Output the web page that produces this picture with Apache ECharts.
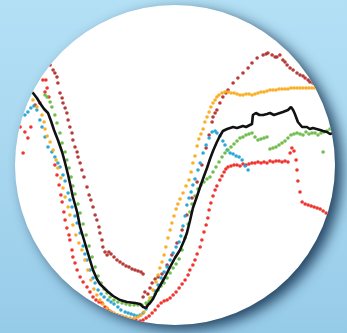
<!DOCTYPE html>
<html>
<head>
<meta charset="utf-8">
<script src="https://cdn.jsdelivr.net/npm/echarts@6/dist/echarts.min.js"></script>
<style>
  html, body { margin: 0; padding: 0; width: 347px; height: 333px; overflow: hidden; }
  body { background: linear-gradient(to bottom, #b3e0f5 0%, #a6d6ef 55%, #96cbe8 100%); position: relative; }
  #disc {
    position: absolute; left: 15px; top: 5px; width: 320px; height: 320px;
    border-radius: 50%; overflow: hidden; background: #ffffff;
    box-shadow: 7px 5px 13px rgba(15, 45, 75, 0.85);
  }
  #chart { position: absolute; left: 0; top: 0; width: 320px; height: 320px; }
</style>
</head>
<body>
<div id="disc"><div id="chart"></div></div>
<script>
// Sampled profiles: [time index, level]
const meanProfile = [
  [0,118.5],[2,117.5],[4,116.5],[5,116],[6.3,113.5],[7.3,111],[8.7,108],[10,106],[11,102],[12,97.5],
  [13.3,92.5],[14.7,86.5],[15.7,81],[16.7,75],[17.3,71],[18.3,64],[19.7,56.5],[20.7,49],[22,42.5],[23,37.5],
  [24,32.5],[25,27.5],[26.3,23],[27.3,20.5],[28.7,18.5],[29.7,17],[31.7,14.5],[34,12.5],[36.3,11.5],[39,11],
  [40.7,10.5],[41.7,9],[42.7,8.5],[43.3,10],[44,11],[45,13],[46.3,17],[47.3,19.5],[49,24],[50.7,29],
  [52.3,33.5],[54,37.5],[55.3,42],[56.3,46],[57.3,52],[58.3,58.5],[59.7,64.5],[60.7,69],[62,74.5],[63,78.5],
  [64,83],[65,87],[66.3,91.5],[67.3,94.5],[68.3,97],[69.7,98],[71.7,99],[73,98.5],[75,99.5],[76,99],[77.3,100],[78,100.5],
  [78.3,105],[79.3,106],[80.5,105],[81.7,105],[83,105.5],[84,106],[85.3,105],[86.3,105.5],[88.3,106.5],[90,107.5],[91,109],[91.7,107.5],[92.3,105.5],
  [93.3,101.5],[94.7,99],[96.3,99],[97.3,98],[98.3,98.5],[100.7,97.5],[101.7,97],[103,96.5],[104,95.5],[105,96]
];

const siteRed = [
  [0.7,99],[1.7,86],[2.3,96.5],[3.3,93.5],[4.3,99],[5.7,110],[7.3,111],[8.3,122.5],[9.3,122.5],[9.7,118.5],
  [9,116.5],[10.3,114],
  [12.3,80],[13,75],[13.7,70],[14.3,65],[14.7,61.5],[15.3,56.5],[15.7,52.5],[16.3,48.5],[17,45],[17.3,42.5],
  [18,37.5],[18.3,34],[19,31],[19.7,27.5],[20.7,24],[21.7,21.5],[23,19],[24,16.5],[25,14],[26,12.5],
  [27,11.5],[28,11],[29,9],[30,7.5],[31,6.5],[32,5.5],[33,5],[34,4.5],[35,4],[36,3.5],
  [37.3,3],[38.3,2.5],[39.3,2.5],[40.7,2],[41.7,2.5],[42.7,3.5],[43.7,4.5],[44.7,6],[45.7,7.5],[46.7,9.5],
  [47.7,11],[48.7,12],[49.7,12.5],[50.7,13.5],[51.7,15],[52.7,16.5],[53.7,18.5],[54.7,20.5],[55.7,22.5],[56.7,25],
  [57.3,27.5],[58.3,30],[59,32.5],[59.7,35.5],[60.7,39],[61.3,42.5],[62,46.5],[62.7,50],[63.3,53.5],[63.7,57.5],
  [64.3,61],[65,64.5],[65.7,67.5],[66.3,69.5],[67.3,72.5],[68,74.5],[68.7,76.5],[69.3,78],[70,79],[71,79.5],
  [72,80],[73,80],[74,79.5],[75,80.5],[76,80],[77,80.5],[78,81],[79,81],[80,81.5],[81,81],
  [82,81.5],[83,81],[84,82],[85,81.5],[86,82],[87,82],[88,81.5],[89,82],[90,81.5],
  [90.7,86],[91.3,88.5],[92,87],[92.7,82.5],[93,77.5],[93.3,72],[94,66.5],[94.7,61.5],[95.7,60.5],[96.7,60],
  [97.7,59.5],[98.7,59],[99.7,58.5],[100.7,58],[101.7,57],[102.7,56],[103.7,54.5],[104.7,53.5]
];

const siteMaroon = [
  [10.7,130],[11.7,127.5],[12.3,126],[13,124],[13.3,121],[14,116],[14.7,113.5],[15,111],[15.7,108.5],[16.3,106],
  [16.7,102.5],[17.3,99],[18,96],[18.3,92.5],[19,89],[19.7,86.5],[20,84],[20.7,81],[21.3,77.5],[22,74],
  [23,69],[23.7,65],[24.3,62.5],[25,59],[25.7,55],[26.3,52.5],[27,49],[27.3,46],[28,42.5],[28.3,39],
  [29,36.5],[29.7,35],[30.3,36.5],[31,35.5],[32,34],[33,32.5],[34,31.5],[35,30.5],[36,29.5],[37,29],
  [38,28],[39,27.5],[40,27],[41,26.5],[41.7,25.5],
  [41.7,14],[42.3,16.5],[43.3,15.5],[44,18.5],[44.7,21],[45.7,23],[46.7,24],[48,25.5],[49.7,30],[51.3,35],
  [53,41],[54.7,47.5],[56.3,55],[58,63.5],[59.7,71.5],[61.3,80],[62.7,88.5],[63.7,95],[64.7,101.5],[65,104],
  [65.7,106],[66.3,107.5],[67.3,111],[68.3,114],[69.3,116],[70,117.5],[71.7,121],[73.3,123.5],[75,126],[76.7,128.5],
  [78,131],[79.7,133.5],[81.7,135],[82.7,135.5],[83.3,136],[84.7,135],[85.7,134],[86.3,134],[87.3,135],[88.3,132.5],
  [89,131.5],[89.7,130],[90.7,128.5],[91.7,127.5],[93,126],[94,125],[95,124.5],[95.7,123.5],[96.7,122.5],[97.3,121.5],
  [98.3,121],[99.3,120],[100.7,118.5]
];

const siteOrange = [
  [5,112.5],[6.3,109],[8,105],[8.7,101.5],[9,98],[9.7,94.5],[10.7,91.5],[11.7,87.5],[12.7,82.5],[13.3,78.5],
  [14.3,73.5],[15,68.5],[15.7,64],[16.7,59],[17.3,55],[18.3,50],[19.3,45],[20.3,41],[21.3,37.5],[22.3,32.5],
  [23.3,27.5],[24.3,22.5],[25.3,18],[26.3,15],[27.3,12.5],[28.3,10.5],[29.7,8.5],[30.7,7],[32,6],[33.3,5],
  [34.7,4.5],[36,4],[37.3,3.5],[38.7,3.5],[40,4],[41,5],[42,6.5],[43,10],[44,13.5],[45,17.5],
  [46,21.5],[46.7,25],[47.3,28.5],[48,31.5],[48.7,35],[49.3,39],[50,43.5],[50.7,47.5],[51.3,51],[52,54.5],
  [52.7,58],[53.3,60.5],[54,63],[55,66],[56,69.5],[57,72.5],[57.7,76.5],[58.3,81],[59,84.5],[59.7,89.5],
  [60.3,93],[61,95.5],[61.7,98],[62.3,101.5],[63,104],[63.7,106.5],[64.3,109],[65,111],[65.7,112.5],[66.3,114],
  [67,115],[68,116],[69,116.5],[70,116.5],[71,116],[72,116],[73,115.5],[74,115],[75,115],[76,115.5],
  [77,115.5],[78,115],[79,115.5],[80,116],[81,116.5],[82,116.5],[83,117],[84,117.5],[85,117.5],[86,117.5],
  [87,118],[88,118],[89,118],[90,118],[91,118.5],[92,118.5],[93,118.5],[94,118.5],[95,118.5],[96,118.5],
  [97,118.5],[98,118.5],[99,118.5],[100,118.5],[101,118.5]
];

const siteBlue = [
  [2.3,105],[3.3,106.5],[4.3,108.5],[5.3,109.5],[6.3,107.5],[7.3,102.5],[8,99],[9,94],[10,89],[11.3,86.5],
  [12.3,84],[13.3,81],[14,79],[15,75],[15.7,72],[16.7,66],[17.3,62.5],[18,59],[19,54.5],[19.7,51],
  [20.7,46],[21.7,39.5],[22.3,35.5],[23,32.5],[24,27.5],[25,23.5],[25.7,21],[26.7,17.5],[27.7,15.5],[28.7,14],
  [30,12.5],[31,11.5],[32,10.5],[33.3,9],[34.3,7.5],[35.7,6.5],[36.7,6],[37.7,5.5],[38.7,5],[39.7,4.5],
  [40.7,5],[41.7,6],[42.7,8],[43.7,11],[44.7,13.5],[45.7,17],[46.7,20],[47.7,23.5],[48.7,26.5],[49.7,29],
  [50.7,32.5],[51.7,36],[52.7,39],[53.7,41.5],[54.3,44.5],[55,49.5],[55.7,54.5],[56.3,60],[57,63.5],[57.7,66.5],
  [58.3,70],[59,73],[60,77.5],[60.7,81],[61.7,86],[62.7,90],[63.7,93.5],[64.7,96.5],[65.7,97],[66.3,96],
  [67.3,94.5],[68.3,92],[69,90],[69.7,87.5],[70.7,86],[71.7,85.5],[72.7,84.5],[73.7,84],[74.7,82.5],[75.7,79.5],
  [76.7,77.5]
];

const siteGreen = [
  [9,115],[9.7,114],[10.7,111.5],[11.3,109],[12.3,105],[13,101],[14,96],[14.7,91],[15.7,86.5],[16.3,82.5],
  [17,78.5],[17.7,74],[18.3,69.5],[19,65.5],[20,60.5],[20.7,56],[21.7,50.5],[22.7,45],[23.7,39.5],[24.7,34],
  [25.7,29],[26.7,24.5],[27.7,21],[28.7,18],[29.7,16],[30.7,14],[32,12.5],[33.3,11.5],[34.7,11],[36,10.5],
  [37.3,10],[38.7,10],[40,10],[41.3,10],[42.7,11],[43.7,12],[44.7,13.5],[45.7,15.5],[46.7,17.5],[47.7,19.5],
  [48.7,21],[49.7,23.5],[50.7,26],[51.7,28.5],[52.7,30.5],[53.7,33],[54.7,37.5],[55.7,43.5],[56.7,50.5],[57.3,56.5],
  [58,60.5],[59,64.5],[60,68],[61,70],[62,71.5],[63,73],[64,74],[65,76.5],[66,79],[67,81.5],
  [68,84],[69,86],[70,87.5],[71,89],[72,90.5],[73,92],[74,93.5],[75,94],[76,95],[77,95.5],
  [78,96],[79,94],[80,92.5],[81,93],[82,93.5],[83,94],[84,88],[85,88.5],[86,89],[87,90],
  [88,91],[89,92],[90,93.5],[91,95],[92,95.5],[93,96],[94,95.5],[95,95],[96,96.5],[97,95.5],
  [98,96],[99,96],[100,95],[101,96],[102,96.5],[103,97],[104,98],[105,97.5],[101.7,86.5]
];

const timeRange = [0, 105];
const levelRange = [0, 160];

function dots(name, data, color) {
  return {
    name: name, type: 'scatter', data: data, symbol: 'circle', symbolSize: 3.6,
    itemStyle: { color: color, opacity: 0.95 }, silent: true, animation: false
  };
}

const chart = echarts.init(document.getElementById('chart'), null, { renderer: 'canvas' });
chart.setOption({
  animation: false,
  grid: { left: 3, right: 2, top: 0, bottom: 0 },
  xAxis: { type: 'value', min: timeRange[0], max: timeRange[1], show: false },
  yAxis: { type: 'value', min: levelRange[0], max: levelRange[1], show: false },
  series: [
    dots('Site A', siteRed, '#ee2a24'),
    dots('Site B', siteMaroon, '#b3312e'),
    dots('Site C', siteBlue, '#22a2d6'),
    dots('Site D', siteOrange, '#fbab1c'),
    dots('Site E', siteGreen, '#69bb44'),
    {
      name: 'Mean', type: 'line', data: meanProfile, showSymbol: false, silent: true,
      lineStyle: { color: '#111111', width: 2.6 }, z: 5
    }
  ]
});
</script>
</body>
</html>
